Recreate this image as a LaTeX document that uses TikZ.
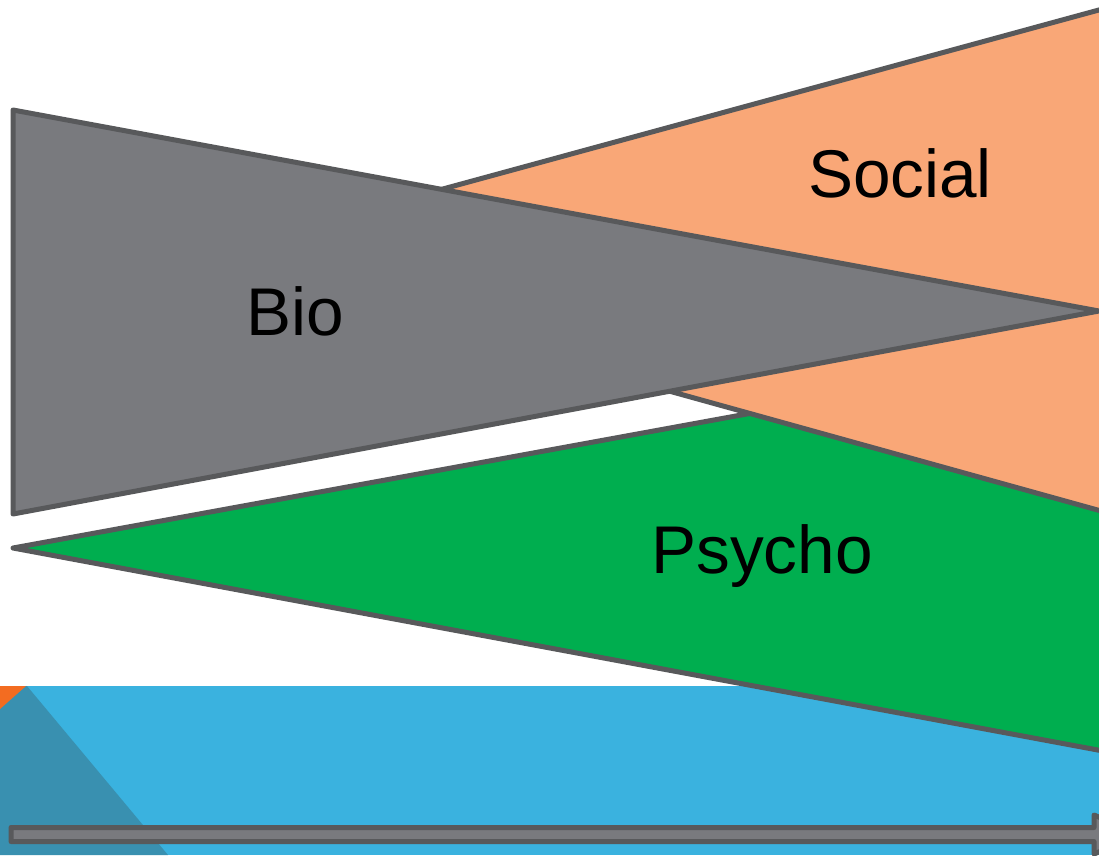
\documentclass[tikz,border=0pt]{standalone}
\usepackage{fontspec}
\setmainfont{Liberation Sans}
\definecolor{biogray}{HTML}{797A7E}
\definecolor{edgegray}{HTML}{58595B}
\definecolor{socialorange}{HTML}{F9A777}
\definecolor{psychogreen}{HTML}{00AE4F}
\definecolor{bandblue}{HTML}{3AB2DF}
\definecolor{darkblue}{HTML}{3990B0}
\definecolor{cornerorange}{HTML}{F36C21}
\tikzset{
  wedge/.style={draw=edgegray, line width=5pt, line join=round},
  label/.style={anchor=base, font=\fontsize{67.5}{67.5}\selectfont, text=black, inner sep=0pt}
}
\begin{document}
\begin{tikzpicture}[x=1pt,y=-1pt]
\useasboundingbox (0,0) rectangle (1099,855);
\clip (0,0) rectangle (1099,855);
% background band
\fill[bandblue] (0,686) rectangle (1099,855);
\fill[darkblue] (0,686) -- (27,686) -- (168,855) -- (0,855) -- cycle;
\fill[cornerorange] (0,686) -- (26,686) -- (0,709) -- cycle;
% timeline arrow
\draw[wedge, fill=biogray] (11,827.5) -- (1094,827.5) -- (1094,815) -- (1140,834.5) -- (1094,854) -- (1094,841.5) -- (11,841.5) -- cycle;
% Psycho wedge
\draw[wedge, fill=psychogreen] (13,548) -- (1130,344) -- (1130,756) -- cycle;
% Social wedge
\draw[wedge, fill=socialorange] (190,258) -- (1130,1.5) -- (1130,519) -- cycle;
% Bio wedge
\draw[wedge, fill=biogray] (13,110) -- (1099,311) -- (13,514) -- cycle;
% labels
\node[label] (social) at (900,197) {Social};
\node[label] (bio) at (295,335) {Bio};
\node[label] (psycho) at (762,573) {Psycho};
\end{tikzpicture}
\end{document}
